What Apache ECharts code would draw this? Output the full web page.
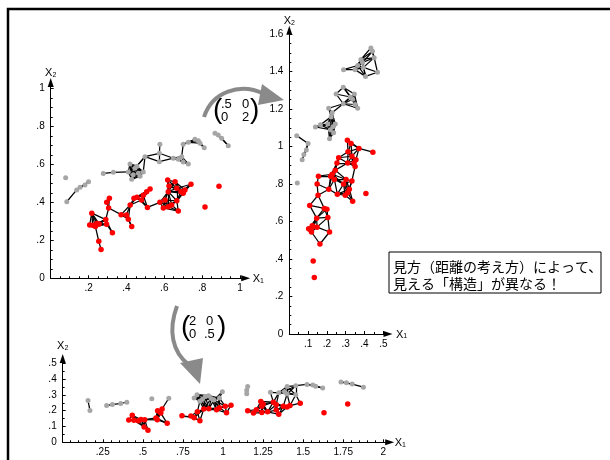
<!DOCTYPE html>
<html><head><meta charset="utf-8">
<script src="https://cdn.jsdelivr.net/npm/echarts@6/dist/echarts.min.js"></script>
<style>html,body{margin:0;padding:0;background:#fff}#c{width:610px;height:460px}</style>
</head><body><div id="c"></div>
<script>
// Original data (top-left view, x1 / x2)
const grayX1 = [0.079,0.085,0.137,0.155,0.181,0.200,0.278,0.331,0.410,0.419,0.428,0.445,0.463,0.472,0.489,0.436,0.455,0.498,0.577,0.574,0.574,0.648,0.674,0.692,0.700,0.727,0.700,0.727,0.762,0.780,0.789,0.811,0.868,0.885,0.903,0.938];
const grayX2 = [0.529,0.403,0.465,0.479,0.491,0.508,0.552,0.558,0.560,0.602,0.521,0.579,0.553,0.537,0.560,0.545,0.590,0.640,0.705,0.658,0.614,0.632,0.626,0.640,0.612,0.602,0.705,0.716,0.732,0.724,0.711,0.687,0.763,0.754,0.737,0.698];
const redX1 = [0.217,0.206,0.222,0.236,0.244,0.256,0.291,0.295,0.326,0.254,0.266,0.296,0.310,0.306,0.372,0.400,0.410,0.428,0.420,0.440,0.456,0.480,0.489,0.507,0.525,0.511,0.577,0.595,0.604,0.618,0.621,0.625,0.621,0.639,0.657,0.666,0.666,0.674,0.688,0.709,0.700,0.741,0.815,0.889];
const redX2 = [0.343,0.281,0.279,0.272,0.289,0.286,0.309,0.285,0.240,0.195,0.151,0.400,0.421,0.370,0.335,0.333,0.311,0.272,0.386,0.421,0.426,0.412,0.437,0.456,0.470,0.373,0.400,0.370,0.412,0.517,0.456,0.486,0.377,0.386,0.508,0.474,0.408,0.354,0.456,0.465,0.447,0.495,0.375,0.485];

// Linear maps shown in the picture
const matrixIdentity = [[1,0],[0,1]];
const matrixA = [[0.5,0],[0,2]];   // top-right view
const matrixB = [[2,0],[0,0.5]];   // bottom view
const edgeRadius = 0.082;          // neighbourhood radius used for the graph

// Tick labels
const p1XTicks = [0.2,0.4,0.6,0.8,1];
const p1YTicks = [0,0.2,0.4,0.6,0.8,1];
const p2XTicks = [0.1,0.2,0.3,0.4,0.5];
const p2YTicks = [0,0.2,0.4,0.6,0.8,1,1.2,1.4,1.6];
const p3XTicks = [0.25,0.5,0.75,1,1.25,1.5,1.75,2];
const p3YTicks = [0,0.1,0.2,0.3,0.4,0.5];

const noteLines = ['見方（距離の考え方）によって、','見える「構造」が異なる！'];

function mapPts(M, xs, ys){
  return xs.map((x,i)=>[M[0][0]*x+M[0][1]*ys[i], M[1][0]*x+M[1][1]*ys[i]]);
}
function edgesOf(pts){
  const out=[];
  for(let i=0;i<pts.length;i++)for(let j=i+1;j<pts.length;j++){
    const dx=pts[i][0]-pts[j][0], dy=pts[i][1]-pts[j][1];
    if(Math.hypot(dx,dy)<edgeRadius) out.push({coords:[pts[i],pts[j]]});
  }
  return out;
}
const fmt = v => { let s = (+v.toFixed(3)).toString(); return s.replace(/^0\./,'.'); };
const FONT='Liberation Sans';
function axis(gi, max, interval, ticks, split, name, isY, nameGap){
  return {
    type:'value', gridIndex:gi, min:0, max:max, interval:interval,
    name:name, nameLocation:'end', nameGap:nameGap,
    nameTextStyle:{rich:{x:{fontSize:11,fontFamily:FONT,color:'#000',verticalAlign:'bottom',lineHeight:12},
                         s:{fontSize:7,fontFamily:FONT,color:'#000',verticalAlign:'bottom',lineHeight:9}}},
    axisLine:{show:true,onZero:false,symbol:['none','triangle'],symbolSize:[6,9],lineStyle:{color:'#000',width:1}},
    axisTick:{show:true,inside:true,length:3,customValues:ticks,lineStyle:{color:'#000'}},
    minorTick:{show:true,splitNumber:split,length:2,lineStyle:{color:'#000'}},
    axisLabel:{customValues:ticks,formatter:fmt,fontSize:10,fontFamily:FONT,color:'#000',margin:isY?6:5},
    splitLine:{show:false}
  };
}
const P1 = mapPts(matrixIdentity, grayX1, grayX2), R1 = mapPts(matrixIdentity, redX1, redX2);
const P2 = mapPts(matrixA, grayX1, grayX2), R2 = mapPts(matrixA, redX1, redX2);
const P3 = mapPts(matrixB, grayX1, grayX2), R3 = mapPts(matrixB, redX1, redX2);

const grids=[
  {left:50.7, top:278.3-1.03*190, width:1.03*189.3, height:1.03*190},
  {left:289.3, top:334-1.62*187.5, width:0.525*188, height:1.62*187.5},
  {left:62.7, top:442.3-0.53*158, width:2.04*160.3, height:0.53*158}
];
const series=[];
[[P1,R1],[P2,R2],[P3,R3]].forEach((pr,k)=>{
  series.push({type:'lines',coordinateSystem:'cartesian2d',xAxisIndex:k,yAxisIndex:k,z:2,silent:true,
    data:edgesOf(pr[0].concat(pr[1])),lineStyle:{color:'#000',width:1.25,opacity:1}});
  series.push({type:'scatter',xAxisIndex:k,yAxisIndex:k,z:3,symbolSize:5,data:pr[0],itemStyle:{color:'#a6a6a6',opacity:1}});
  series.push({type:'scatter',xAxisIndex:k,yAxisIndex:k,z:4,symbolSize:5.5,data:pr[1],itemStyle:{color:'#ff0000',opacity:1}});
});

const gray='#8a8a8a';
const txt=(x,y,t,size,extra)=>Object.assign({type:'text',x:x,y:y,style:{text:t,font:size+'px '+FONT,fill:'#000',textVerticalAlign:'middle'}},extra||{});
const graphic=[
  {type:'rect',shape:{x:8,y:9,width:640,height:480},style:{fill:'none',stroke:'#000',lineWidth:2.5},z:10},
  {type:'bezierCurve',shape:{x1:204,y1:117,cpx1:212,cpy1:92,cpx2:240,cpy2:82,x2:264,y2:94},style:{fill:'none',stroke:gray,lineWidth:4}},
  {type:'polygon',shape:{points:[[262,84],[284,100],[258,105]]},style:{fill:gray}},
  {type:'bezierCurve',shape:{x1:177,y1:306,cpx1:168,cpy1:330,cpx2:172,cpy2:352,x2:189,y2:365},style:{fill:'none',stroke:gray,lineWidth:4}},
  {type:'polygon',shape:{points:[[180,363],[203,358],[200,384]]},style:{fill:gray}},
  // matrix (.5 0 / 0 2)
  {type:'text',x:213,y:110,style:{text:'(',font:'28px '+FONT,fill:'#000',textVerticalAlign:'middle'}},
  txt(221,104,'.5',13), txt(242,104,'0',13), txt(221,117,'0',13), txt(242,117,'2',13),
  {type:'text',x:250,y:110,style:{text:')',font:'28px '+FONT,fill:'#000',textVerticalAlign:'middle'}},
  // matrix (2 0 / 0 .5)
  {type:'text',x:181,y:327,style:{text:'(',font:'28px '+FONT,fill:'#000',textVerticalAlign:'middle'}},
  txt(189,321,'2',13), txt(206,321,'0',13), txt(189,334,'0',13), txt(204,334,'.5',13),
  {type:'text',x:217,y:327,style:{text:')',font:'28px '+FONT,fill:'#000',textVerticalAlign:'middle'}},
  // note box
  {type:'rect',shape:{x:389,y:252,width:212,height:41},style:{fill:'#fff',stroke:'#000',lineWidth:1},z:5},
  {type:'text',x:393,y:267,z:6,style:{text:noteLines[0],font:'14px "Noto Sans CJK JP"',fill:'#000',textVerticalAlign:'middle'}},
  {type:'text',x:393,y:284,z:6,style:{text:noteLines[1],font:'14px "Noto Sans CJK JP"',fill:'#000',textVerticalAlign:'middle'}}
];

const chart=echarts.init(document.getElementById('c'),null,{renderer:'canvas'});
chart.setOption({
  animation:false, backgroundColor:'#fff',
  grid:grids,
  xAxis:[axis(0,1.03,0.2,p1XTicks,4,'{x|X}{s|1}',false,7), axis(1,0.525,0.1,p2XTicks,2,'{x|X}{s|1}',false,8), axis(2,2.04,0.25,p3XTicks,5,'{x|X}{s|1}',false,5)],
  yAxis:[axis(0,1.03,0.2,p1YTicks,4,'{x|X}{s|2}',true,4), axis(1,1.62,0.2,p2YTicks,4,'{x|X}{s|2}',true,4), axis(2,0.53,0.1,p3YTicks,2,'{x|X}{s|2}',true,7)],
  series:series,
  graphic:graphic
});
</script></body></html>
